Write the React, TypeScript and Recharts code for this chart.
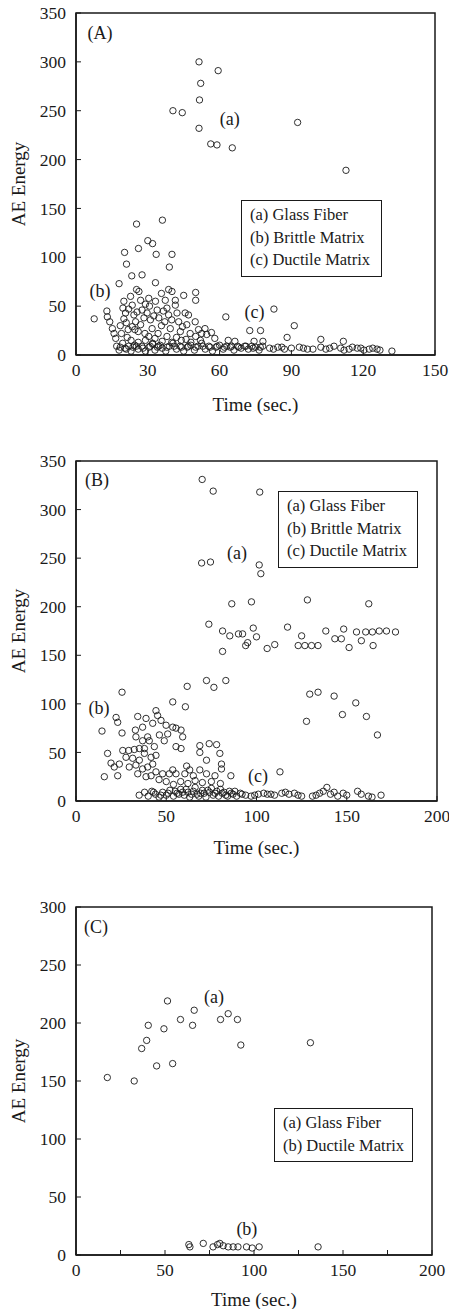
import React from "react";
import {
  ScatterChart,
  Scatter,
  XAxis,
  YAxis,
  ReferenceDot,
  ReferenceArea,
} from "recharts";

type Pt = [number, number];

// panel A
const A_FIBER: Pt[] = [
  [51.4, 300], [52.1, 278], [59.4, 291], [51.6, 261], [40.5, 250], [44.4, 248],
  [51.4, 232], [56.3, 216], [58.9, 215], [65.3, 212], [92.6, 238], [112.8, 189],
];
const A_BRITTLE: Pt[] = [
  [25.3, 134], [36.1, 138], [20.3, 105], [26.1, 109], [30, 117], [32, 114],
  [33.5, 103], [40.1, 103], [21.1, 93], [39, 90], [23.3, 81], [27.6, 82],
  [18, 73], [33.2, 74], [25.3, 67], [40.1, 65], [35.7, 63], [45, 61], [50, 64],
  [50, 56], [12.9, 45], [7.6, 37], [13.1, 39], [14.1, 34], [15.2, 27], [15.9, 22],
  [16.6, 17], [20, 55], [19.6, 48], [20.7, 43], [21, 33], [21.8, 26], [21.4, 18],
  [22.8, 60], [23.5, 51], [24.2, 41], [24.9, 34], [24.6, 26], [26.3, 65], [27, 56],
  [27.6, 46], [28.4, 38], [27, 31], [28.8, 22], [30.4, 58], [30.7, 50], [29.7, 43],
  [31.1, 36], [31.8, 27], [30.4, 19], [33.2, 55], [33.9, 46], [34.6, 38], [35.7, 30],
  [34.3, 22], [37.3, 56], [38, 48], [38.7, 41], [37.1, 34], [39.4, 27], [38, 19],
  [41.5, 51], [42.2, 43], [42.9, 34], [43.6, 24], [45.6, 43], [47, 41], [46.3, 31],
  [47.7, 22], [49.8, 34], [51.2, 26], [52.5, 22], [53.9, 27], [54.6, 21], [38.7, 67],
  [41.5, 56], [56.6, 23], [18.5, 30], [19, 22], [23, 15], [26, 13], [29, 15],
  [32, 12], [36, 14], [40, 13], [44, 15], [48, 13], [52, 15], [58, 17],
  [22, 47], [25.5, 44], [29, 52], [32.5, 40], [36.5, 45], [40, 36], [44.5, 29],
  [26, 24], [33, 17], [42, 18], [50, 19], [46, 16], [20, 37], [23.5, 29],
];
const A_DUCTILE: Pt[] = [
  [17, 9], [18, 5], [19.5, 12], [20.5, 7], [22, 9], [23, 4], [24.5, 10], [26, 6],
  [27.5, 9], [29, 4], [30.5, 8], [32, 11], [33, 5], [34.5, 9], [36, 7], [37.5, 4],
  [39, 9], [40.5, 12], [42, 6], [43.5, 9], [45, 4], [46.5, 8], [48, 10], [49.5, 5],
  [51, 9], [52.5, 12], [54, 6], [55.5, 9], [57, 4], [58.5, 8], [60, 10], [61.5, 6],
  [63, 9], [64.5, 8], [66, 5], [67.5, 9], [69, 7], [70.5, 9], [72, 6], [73.5, 9],
  [75, 8], [76.5, 5], [78, 9], [80.9, 7], [84.3, 8], [87.1, 6], [93.3, 8], [96.7, 6],
  [102.3, 8], [104.4, 6], [107.8, 9], [110.6, 7], [114.1, 6], [117.5, 7], [120.3, 5],
  [122.5, 6], [125.8, 6], [132, 4], [72.6, 25], [77.1, 25], [74.4, 14], [78.1, 14],
  [88.2, 18], [102.3, 16], [111.7, 14], [91.2, 30], [82.7, 47], [62.6, 39],
  [63.6, 15], [66.4, 14], [99, 6], [90, 7], [115.5, 8], [127, 5],
  [18.5, 8], [21, 6], [23.8, 8], [25.2, 9], [28, 7], [31, 9], [34, 8], [35.2, 10],
  [38, 8], [41, 9], [44, 8], [47, 9], [50, 8], [53, 9], [56, 8], [59, 9], [62, 8],
  [65, 9], [68, 8], [71, 9], [74, 7], [77, 8], [82.5, 6], [86, 8], [95, 7],
  [106, 7], [112, 5], [119, 7], [124, 7],
];

// panel B
const B_FIBER: Pt[] = [
  [69.9, 331], [76, 319], [101.8, 318], [69.6, 245], [74.5, 246], [101.5, 243],
  [102.4, 234], [86.3, 203], [97.2, 205], [128.2, 207], [162.2, 203], [73.6, 182],
  [81.2, 175], [85.2, 170], [90, 172], [92.3, 172], [95.1, 163], [94, 160],
  [98.2, 178], [100, 169], [105.9, 157], [110.1, 161], [117.2, 179], [125, 170],
  [123.1, 160], [126.8, 160], [130.5, 160], [134.1, 160], [138.4, 175], [143.4, 167],
  [147, 167], [148.3, 177], [151.3, 158], [155.4, 174], [158.1, 165], [160.5, 174],
  [164.2, 174], [168, 175], [172, 175], [177, 174], [164.6, 160], [81.2, 154],
  [61.6, 118], [72.3, 124], [76.4, 117], [83, 124], [129.5, 110], [134.1, 112],
  [143, 108], [147.6, 89], [155, 101], [160.9, 87], [127.7, 82], [167, 68],
];
const B_BRITTLE: Pt[] = [
  [25.5, 112], [14.4, 72], [22.2, 86], [23.1, 81], [25.5, 70], [34.2, 87],
  [32.9, 73], [44.3, 93], [45.2, 88], [53.6, 102], [60.6, 97], [17.5, 49],
  [19.4, 39], [15.7, 25], [23.1, 26], [21.2, 35], [24, 38], [25.9, 52], [29.2, 52],
  [32.3, 53], [35.1, 54], [37.9, 54], [40.6, 62], [43.4, 56], [27.7, 45], [31.4, 44],
  [35.1, 42], [37.9, 49], [41.6, 45], [44.3, 47], [33.2, 66], [36.9, 62], [39.7, 66],
  [46.2, 68], [48.9, 62], [50.8, 69], [53.6, 76], [55.4, 75], [58.2, 73], [59.1, 66],
  [55.4, 56], [58.2, 54], [29.5, 35], [33.2, 37], [36.9, 33], [39.7, 35], [42.5, 38],
  [44.3, 30], [48, 28], [51.7, 28], [53.6, 32], [55.4, 28], [34.2, 28], [38.8, 25],
  [41.6, 26], [47.1, 83], [49.9, 78], [42.5, 80], [38.8, 85], [36.9, 76], [68.6, 57],
  [73.8, 59], [77.9, 58], [68.6, 50], [72.3, 42], [80.6, 38], [80.6, 33], [85.8, 26],
  [61.3, 36], [63, 32], [79.7, 49], [60.3, 28], [65, 26], [68.6, 32], [72.3, 28],
  [77, 26], [58, 20], [62, 18], [66, 21], [70, 19], [75, 20], [80, 18], [50, 20],
  [46, 22], [54, 17],
];
const B_DUCTILE: Pt[] = [
  [35, 6], [38, 9], [40, 5], [42, 10], [44, 7], [46, 4], [48, 9], [50, 6], [52, 11],
  [54, 5], [56, 8], [58, 12], [60, 6], [62, 9], [63, 4], [65, 10], [66, 14], [67, 7],
  [68, 5], [70, 11], [71, 8], [72, 4], [74, 9], [75, 13], [76, 6], [78, 10], [79, 5],
  [81, 8], [83, 6], [85, 10], [87, 7], [89, 5], [91, 8], [94, 6], [97, 5], [101, 7],
  [104, 8], [106, 7], [108, 7], [110, 6], [113, 30], [114, 8], [116, 9], [118, 7],
  [121, 8], [123, 6], [125, 5], [131, 5], [133, 6], [135, 8], [137, 10], [139, 14],
  [141, 7], [143, 9], [145, 5], [148, 8], [150, 6], [156, 10], [158, 7], [162, 5],
  [164, 4], [169, 6],
  [43, 9], [47, 6], [51, 8], [55, 10], [57, 7], [59, 9], [61, 12], [64, 7], [69, 8],
  [73, 11], [77, 8], [80, 12], [82, 9], [84, 5], [86, 8], [88, 10], [92, 7], [99, 6],
];

// panel C
const C_FIBER: Pt[] = [
  [17.6, 153], [32.7, 150], [36.9, 178], [39.7, 185], [40.6, 198], [45.3, 163],
  [49.4, 195], [51.4, 219], [54.3, 165], [58.7, 203], [65.5, 198], [66.4, 211],
  [81.2, 203], [85.5, 208], [90.7, 203], [92.6, 181], [131.7, 183],
];
const C_DUCTILE: Pt[] = [
  [63.4, 9], [64, 7], [71.5, 10], [77, 7], [79.5, 9], [80.8, 10], [82.7, 8],
  [85.5, 7], [88.3, 7], [91, 7], [95.8, 7], [99, 6], [102.9, 7], [136, 7],
];

const X_TICKS_A = [0, 30, 60, 90, 120, 150];
const X_TICKS_B = [0, 50, 100, 150, 200];
const X_TICKS_C = [0, 25, 50, 75, 100, 125, 150, 175, 200];
const Y_TICKS_350 = [0, 50, 100, 150, 200, 250, 300, 350];
const Y_TICKS_300 = [0, 50, 100, 150, 200, 250, 300];

const LEGEND_ABC = ["(a) Glass Fiber", "(b) Brittle Matrix", "(c) Ductile Matrix"];
const LEGEND_C = ["(a) Glass Fiber", "(b) Ductile Matrix"];

const INK = "#1a1a1a";
const FONT = "'Liberation Serif', 'DejaVu Serif', serif";

const toPts = (a: Pt[]) => a.map(([t, e]) => ({ t, e }));

const Ring = (p: any) => (
  <circle cx={p.cx} cy={p.cy} r={3.2} fill="none" stroke={INK} strokeWidth={0.9} />
);

const makeXTick = (labelEvery: number) => (p: any) => {
  const v = p.payload.value;
  return (
    <g>
      <line x1={p.x} x2={p.x} y1={p.y - 8} y2={p.y - 13} stroke={INK} strokeWidth={1} />
      {v % labelEvery === 0 && (
        <text x={p.x} y={p.y} dy="0.75em" textAnchor="middle" fill={INK} fontSize={17.5}>
          {v}
        </text>
      )}
    </g>
  );
};

const YTick = (p: any) => (
  <g>
    <line x1={p.x + 10} x2={p.x + 15} y1={p.y} y2={p.y} stroke={INK} strokeWidth={1} />
    <text x={p.x} y={p.y} dy="0.35em" textAnchor="end" fill={INK} fontSize={17.5}>
      {p.payload.value}
    </text>
  </g>
);

type Note = { t: number; e: number; text: string };

type PanelProps = {
  top: number;
  height: number;
  margin: { top: number; right: number; bottom: number; left: number };
  xMax: number;
  yMax: number;
  xTicks: number[];
  yTicks: number[];
  labelEvery: number;
  series: { name: string; pts: Pt[] }[];
  notes: Note[];
  legend: string[];
  legendBox: { left: number; top: number; width: number };
  titleGap: number;
};

const Panel = ({
  top, height, margin, xMax, yMax, xTicks, yTicks, labelEvery, series, notes,
  legend, legendBox, titleGap,
}: PanelProps) => (
  <div style={{ position: "absolute", left: 0, top, width: 449, height }}>
    <ScatterChart width={449} height={height} margin={margin}>
      <XAxis
        dataKey="t"
        type="number"
        domain={[0, xMax]}
        ticks={xTicks}
        interval={0}
        tickSize={0}
        tickMargin={8}
        tick={makeXTick(labelEvery)}
        axisLine={{ stroke: INK, strokeWidth: 1.5 }}
        height={60}
        label={(lp: any) => {
          const vb = lp.viewBox;
          return (
            <text
              x={vb.x + vb.width / 2}
              y={vb.y + titleGap}
              textAnchor="middle"
              fill={INK}
              fontSize={19}
            >
              Time (sec.)
            </text>
          );
        }}
      />
      <YAxis
        dataKey="e"
        type="number"
        domain={[0, yMax]}
        ticks={yTicks}
        interval={0}
        tickSize={0}
        tickMargin={10}
        tick={YTick}
        width={76 - margin.left}
        axisLine={{ stroke: INK, strokeWidth: 1.5 }}
        label={(lp: any) => {
          const vb = lp.viewBox;
          const cx = 18;
          const cy = vb.y + vb.height / 2;
          return (
            <text
              x={cx}
              y={cy}
              textAnchor="middle"
              dominantBaseline="central"
              transform={`rotate(-90 ${cx} ${cy})`}
              fill={INK}
              fontSize={19}
            >
              AE Energy
            </text>
          );
        }}
      />
      <ReferenceArea
        x1={0}
        x2={xMax}
        y1={0}
        y2={yMax}
        fill="none"
        fillOpacity={0}
        stroke={INK}
        strokeWidth={1.5}
      />
      {series.map((s) => (
        <Scatter
          key={s.name}
          name={s.name}
          data={toPts(s.pts)}
          shape={Ring}
          isAnimationActive={false}
        />
      ))}
      {notes.map((n) => (
        <ReferenceDot
          key={n.text}
          x={n.t}
          y={n.e}
          r={0}
          stroke="none"
          label={{ value: n.text, position: "center", fill: INK, fontSize: 18 }}
        />
      ))}
    </ScatterChart>
    <div
      style={{
        position: "absolute",
        left: legendBox.left,
        top: legendBox.top,
        width: legendBox.width,
        border: `1px solid ${INK}`,
        padding: "3px 0 4px 8px",
        boxSizing: "border-box",
        background: "#fff",
        color: INK,
        fontSize: 16.5,
        lineHeight: "22.5px",
      }}
    >
      {legend.map((l) => (
        <div key={l}>{l}</div>
      ))}
    </div>
  </div>
);

export default function App() {
  return (
    <div
      style={{
        position: "absolute",
        left: 0,
        top: 0,
        width: 449,
        height: 1309,
        background: "#fff",
        fontFamily: FONT,
      }}
    >
      <Panel
        top={0}
        height={440}
        margin={{ top: 13, right: 14, bottom: 25, left: 23 }}
        xMax={150}
        yMax={350}
        xTicks={X_TICKS_A}
        yTicks={Y_TICKS_350}
        labelEvery={30}
        series={[
          { name: "Glass Fiber", pts: A_FIBER },
          { name: "Brittle Matrix", pts: A_BRITTLE },
          { name: "Ductile Matrix", pts: A_DUCTILE },
        ]}
        notes={[
          { t: 10, e: 330, text: "(A)" },
          { t: 64.2, e: 242, text: "(a)" },
          { t: 10, e: 66, text: "(b)" },
          { t: 74.6, e: 44, text: "(c)" },
        ]}
        legend={LEGEND_ABC}
        legendBox={{ left: 241, top: 200, width: 141 }}
        titleGap={56}
      />
      <Panel
        top={440}
        height={430}
        margin={{ top: 21, right: 12, bottom: 9, left: 23 }}
        xMax={200}
        yMax={350}
        xTicks={X_TICKS_B}
        yTicks={Y_TICKS_350}
        labelEvery={50}
        series={[
          { name: "Glass Fiber", pts: B_FIBER },
          { name: "Brittle Matrix", pts: B_BRITTLE },
          { name: "Ductile Matrix", pts: B_DUCTILE },
        ]}
        notes={[
          { t: 11.6, e: 331, text: "(B)" },
          { t: 89.2, e: 256, text: "(a)" },
          { t: 12.7, e: 96, text: "(b)" },
          { t: 100.8, e: 26.5, text: "(c)" },
        ]}
        legend={LEGEND_ABC}
        legendBox={{ left: 278, top: 51, width: 140 }}
        titleGap={53}
      />
      <Panel
        top={870}
        height={439}
        margin={{ top: 37, right: 17, bottom: -6, left: 23 }}
        xMax={200}
        yMax={300}
        xTicks={X_TICKS_C}
        yTicks={Y_TICKS_300}
        labelEvery={50}
        series={[
          { name: "Glass Fiber", pts: C_FIBER },
          { name: "Ductile Matrix", pts: C_DUCTILE },
        ]}
        notes={[
          { t: 11.2, e: 283, text: "(C)" },
          { t: 77.5, e: 223, text: "(a)" },
          { t: 96, e: 23, text: "(b)" },
        ]}
        legend={LEGEND_C}
        legendBox={{ left: 274, top: 238, width: 139 }}
        titleGap={51}
      />
    </div>
  );
}
